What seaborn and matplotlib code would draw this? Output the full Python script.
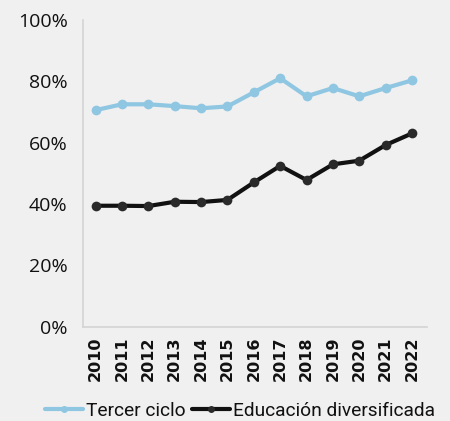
import matplotlib
matplotlib.use("Agg")
import matplotlib.pyplot as plt
import seaborn as sns
import pandas as pd
from matplotlib.ticker import FuncFormatter

# Coverage rates (%) by school level
years = [2010, 2011, 2012, 2013, 2014, 2015, 2016, 2017, 2018, 2019, 2020, 2021, 2022]
tercer_ciclo = [70.6, 72.5, 72.5, 71.9, 71.2, 71.8, 76.4, 81.0, 75.1, 77.8, 75.1, 77.8, 80.3]
educacion_diversificada = [39.4, 39.4, 39.3, 40.7, 40.6, 41.3, 47.0, 52.4, 47.8, 52.9, 54.1, 59.2, 63.0]
series_names = ["Tercer ciclo", "Educación diversificada"]
series_colors = ["#8fc6e1", "#111111"]
y_ticks = [0, 20, 40, 60, 80, 100]

df = pd.DataFrame({
    "Año": years * 2,
    "Valor": tercer_ciclo + educacion_diversificada,
    "Serie": [series_names[0]] * len(years) + [series_names[1]] * len(years),
})

sns.set_theme(style="white")
bg = "#f0f0f0"
plt.rcParams["font.family"] = ["Open Sans", "DejaVu Sans"]

fig = plt.figure(figsize=(4.5, 4.21), dpi=100, facecolor=bg)
ax = fig.add_axes([83 / 450, 1 - 326.5 / 421, (427 - 83) / 450, (326.5 - 20) / 421])
ax.set_facecolor(bg)

sns.lineplot(
    data=df, x="Año", y="Valor", hue="Serie", hue_order=series_names,
    palette=series_colors, marker="o", markersize=7, markeredgewidth=0,
    linewidth=3.0, ax=ax, legend=False,
)
# darker markers on the black series
ax.lines[1].set_markerfacecolor("#2a2a2a")

ax.set_xlim(2009.52, 2022.57)
ax.set_ylim(0, 100)
ax.set_xticks(years)
ax.set_xticklabels([str(y) for y in years], rotation=90, fontsize=11.5,
                   fontweight="bold", family=["DejaVu Sans"],
                   color="#111111")
ax.set_yticks(y_ticks)
ax.yaxis.set_major_formatter(FuncFormatter(lambda v, p: f"{v:.0f}%"))
ax.tick_params(axis="y", labelsize=14, colors="#111111", length=0, pad=11)
ax.tick_params(axis="x", length=0, pad=7)
ax.set_xlabel("")
ax.set_ylabel("")

for side in ["top", "right"]:
    ax.spines[side].set_visible(False)
for side in ["left", "bottom"]:
    ax.spines[side].set_color("#d4d4d4")
    ax.spines[side].set_linewidth(1.2)

handles = [
    plt.Line2D([], [], color=series_colors[0], lw=3.0, marker="o", markersize=5,
               markeredgewidth=0),
    plt.Line2D([], [], color=series_colors[1], lw=3.0, marker="o", markersize=5,
               markeredgewidth=0, markerfacecolor="#2a2a2a"),
]
fig.legend(
    handles, series_names, loc="center", bbox_to_anchor=(240 / 450, 1 - 411 / 421),
    ncol=2, frameon=False, handlelength=2.0, handletextpad=0.15, columnspacing=0.3,
    prop={"family": ["Roboto", "DejaVu Sans"], "size": 13.8},
    labelcolor="#111111",
)

fig.savefig("out.png", dpi=100, facecolor=bg)
